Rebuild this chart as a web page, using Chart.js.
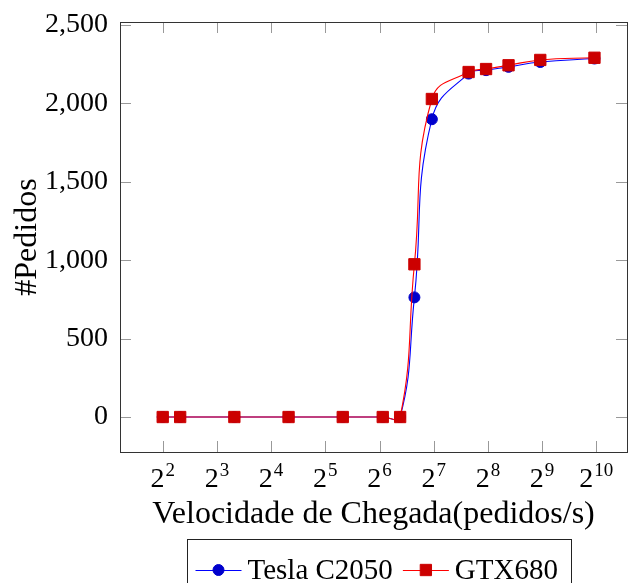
<!DOCTYPE html>
<html>
<head>
<meta charset="utf-8">
<script src="https://cdn.jsdelivr.net/npm/chart.js@4"></script>
<style>
  body { margin: 0; background: #fff; }
  #box { width: 628px; height: 583px; }
</style>
</head>
<body>
<div id="box"><canvas id="grafico"></canvas></div>
<script>
// taxas de chegada (pedidos/s)
const taxas = [4, 5, 10, 20, 40, 66.7, 83.3, 100, 125, 200, 250, 333.3, 500, 1000];
const tesla = [0, 0, 0, 0, 0, 0, 0, 763, 1899, 2190, 2212, 2233, 2264, 2286];
const gtx = [0, 0, 0, 0, 0, 0, 0, 974, 2028, 2200, 2219, 2243, 2277, 2291];

// eixo x em log2: expoentes (rótulos 2^n)
const expoentes = [2, 3, 4, 5, 6, 7, 8, 9, 10];
const baseX = '2';
const ticksY = [0, 500, 1000, 1500, 2000, 2500];

const fonte = 'Liberation Serif';

function pontos(ys) {
    return taxas.map((t, i) => ({ x: Math.log2(t), y: ys[i] }));
}

function semPadding(s) {
    s.paddingTop = 0; s.paddingBottom = 0;
    s.paddingLeft = 0; s.paddingRight = 0;
}

// ticks para dentro nos quatro lados + moldura + rótulos 2^n
const moldura = {
    id: 'moldura',
    afterDraw(chart) {
        const { ctx, chartArea: a, scales } = chart;
        ctx.save();
        ctx.strokeStyle = '#999';
        ctx.lineWidth = 1;
        ctx.beginPath();
        scales.x.ticks.forEach(t => {
            const px = Math.round(scales.x.getPixelForValue(t.value)) + 0.5;
            ctx.moveTo(px, a.bottom); ctx.lineTo(px, a.bottom - 11);
            ctx.moveTo(px, a.top); ctx.lineTo(px, a.top + 11);
        });
        scales.y.ticks.forEach(t => {
            const py = Math.round(scales.y.getPixelForValue(t.value)) + 0.5;
            ctx.moveTo(a.left, py); ctx.lineTo(a.left + 11, py);
            ctx.moveTo(a.right, py); ctx.lineTo(a.right - 11, py);
        });
        ctx.stroke();
        ctx.strokeStyle = '#333';
        ctx.strokeRect(Math.round(a.left) + 0.5, Math.round(a.top) + 0.5,
            Math.round(a.right - a.left), Math.round(a.bottom - a.top));

        // rótulos do eixo x com expoente
        ctx.fillStyle = '#000';
        ctx.textBaseline = 'alphabetic';
        ctx.textAlign = 'left';
        const fBase = '28px "' + fonte + '"', fExp = '19px "' + fonte + '"';
        const yBase = a.bottom + 35;
        scales.x.ticks.forEach(t => {
            const px = scales.x.getPixelForValue(t.value);
            const exp = String(t.value);
            ctx.font = fBase;
            const wb = ctx.measureText(baseX).width;
            ctx.font = fExp;
            const we = ctx.measureText(exp).width;
            const x0 = px - (wb + 1 + we) / 2;
            ctx.font = fBase;
            ctx.fillText(baseX, x0, yBase);
            ctx.font = fExp;
            ctx.fillText(exp, x0 + wb + 1, yBase - 11);
        });
        ctx.restore();
    }
};

// legenda com moldura, desenhada a partir dos datasets
const legenda = {
    id: 'legenda',
    afterDraw(chart) {
        const ctx = chart.ctx;
        const ds = chart.data.datasets;
        ctx.save();
        ctx.font = '29px "' + fonte + '"';
        const simb = 46, gap = 6, sep = 10, padL = 8, padR = 14;
        let largura = padL + padR;
        ds.forEach((d, i) => {
            largura += simb + gap + ctx.measureText(d.label).width;
            if (i < ds.length - 1) largura += sep;
        });
        const cx = 379, topo = 539.5;
        let x = Math.round(cx - largura / 2) + 0.5;
        ctx.strokeStyle = '#222';
        ctx.lineWidth = 1;
        ctx.strokeRect(x, topo, Math.round(largura), 80);
        const yc = 570;
        x += padL;
        ds.forEach(d => {
            ctx.strokeStyle = d.borderColor;
            ctx.lineWidth = 1;
            ctx.beginPath();
            ctx.moveTo(x, yc + 0.5); ctx.lineTo(x + simb, yc + 0.5);
            ctx.stroke();
            ctx.fillStyle = d.pointBackgroundColor;
            ctx.strokeStyle = d.pointBorderColor;
            Chart.helpers.drawPoint(ctx, {
                pointStyle: d.pointStyle, radius: d.pointRadius,
                borderWidth: d.pointBorderWidth, rotation: 0
            }, x + simb / 2, yc);
            x += simb + gap;
            ctx.fillStyle = '#000';
            ctx.textBaseline = 'middle';
            ctx.fillText(d.label, x, yc + 1);
            x += ctx.measureText(d.label).width + sep;
        });
        ctx.restore();
    }
};

new Chart(document.getElementById('grafico'), {
    type: 'line',
    data: {
        datasets: [
            {
                label: 'Tesla C2050',
                data: pontos(tesla),
                borderColor: 'rgb(0,0,255)',
                borderWidth: 1.1,
                pointStyle: 'circle',
                pointRadius: 5.5,
                pointBackgroundColor: 'rgb(0,0,204)',
                pointBorderColor: 'rgb(0,0,204)',
                pointBorderWidth: 1,
                tension: 0.45,
                order: 1
            },
            {
                label: 'GTX680',
                data: pontos(gtx),
                borderColor: 'rgb(255,0,0)',
                borderWidth: 1.1,
                pointStyle: 'rect',
                pointRadius: 8,
                pointBackgroundColor: 'rgb(204,0,0)',
                pointBorderColor: 'rgb(204,0,0)',
                pointBorderWidth: 1,
                tension: 0.45,
                order: 0
            }
        ]
    },
    options: {
        responsive: true,
        maintainAspectRatio: false,
        animation: false,
        layout: { autoPadding: false, padding: { top: 22, left: 0, right: 1, bottom: 47 } },
        plugins: {
            legend: { display: false },
            tooltip: { enabled: false }
        },
        scales: {
            x: {
                type: 'linear',
                min: 1.212,
                max: 10.566,
                grid: { display: false, drawTicks: false },
                border: { display: false },
                afterBuildTicks: s => { s.ticks = expoentes.map(v => ({ value: v })); },
                afterFit: s => { s.height = 84; semPadding(s); },
                ticks: { display: false },
                title: {
                    display: true,
                    text: 'Velocidade de Chegada(pedidos/s)',
                    color: '#000',
                    font: { family: fonte, size: 32 },
                    padding: { top: 0, bottom: 2 }
                }
            },
            y: {
                min: -223,
                max: 2519,
                grid: { display: false, drawTicks: false },
                border: { display: false },
                afterBuildTicks: s => { s.ticks = ticksY.map(v => ({ value: v })); },
                afterFit: s => { s.width = 120; semPadding(s); },
                ticks: {
                    padding: 12,
                    color: '#000',
                    font: { family: fonte, size: 28 },
                    callback: v => v.toLocaleString('en-US')
                },
                title: {
                    display: true,
                    text: '#Pedidos',
                    color: '#000',
                    font: { family: fonte, size: 32 },
                    padding: { top: 8, bottom: 0 }
                }
            }
        }
    },
    plugins: [moldura, legenda]
});
</script>
</body>
</html>
